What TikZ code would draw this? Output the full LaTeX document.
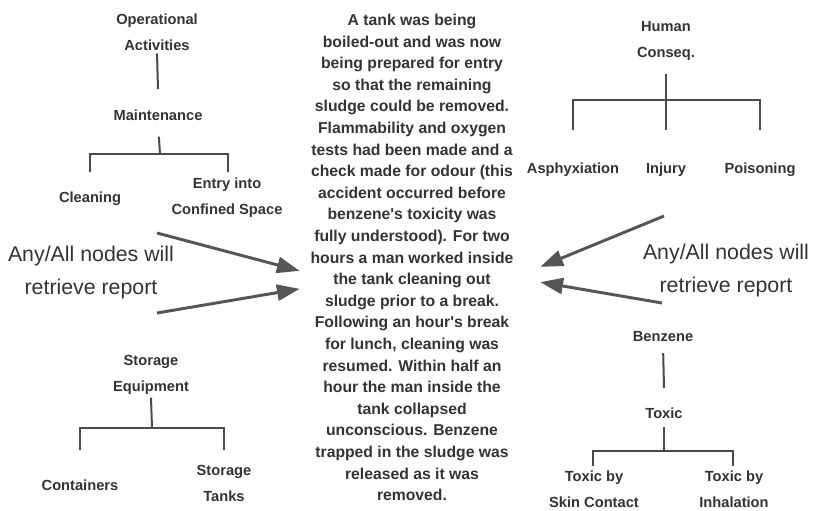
\documentclass[tikz,border=0pt]{standalone}
\usepackage{fontspec}
\setmainfont{Liberation Sans}
\usetikzlibrary{arrows.meta,positioning}
\definecolor{hazInk}{HTML}{333333}
\definecolor{hazLine}{HTML}{4A4A4A}
\definecolor{hazArrow}{HTML}{555555}
\tikzset{
  every picture/.style={text=hazInk},
  haz label/.style={font=\fontsize{11}{19.5}\selectfont\bfseries, align=center, inner sep=2pt},
  haz note/.style={font=\fontsize{16}{24.75}\selectfont, align=center, inner sep=0pt},
  haz report/.style={font=\fontsize{11.8}{16.2}\selectfont\bfseries, align=center,
    inner xsep=8pt, inner ysep=2pt},
  haz line/.style={draw=hazLine, line width=1.5pt},
  haz arrow/.style={-{Triangle[length=17pt,width=12pt]},
    draw=hazArrow, line width=2.2pt, line cap=butt}
}
\begin{document}
\begin{tikzpicture}[x=0.75pt,y=-0.75pt]
  \useasboundingbox (0,0) rectangle (813,510);
  % report text in the middle
  \node[haz report] (report) at (412,257.5) {A tank was being\\
    boiled-out and was now\\ being prepared for entry\\ so that the remaining\\
    sludge could be removed.\\ Flammability and oxygen\\ tests had been made and a\\
    check made for odour (this\\ accident occurred before\\ benzene\textquotesingle s toxicity was\\
    fully understood). For two\\ hours a man worked inside\\ the tank cleaning out\\
    sludge prior to a break.\\ Following an hour\textquotesingle s break\\ for lunch, cleaning was\\
    resumed. Within half an\\ hour the man inside the\\ tank collapsed\\
    unconscious. Benzene\\ trapped in the sludge was\\ released as it was\\ removed.};

  % left: operational activities
  \node[haz label] (opact) at (157,32) {Operational\\Activities};
  \node[haz label] (maint) at (158,115) {Maintenance};
  \node[haz label] (clean) at (90,199) {Cleaning};
  \node[haz label] (entry) at (227,198) {Entry into\\Confined Space};
  \coordinate (maintTop) at (158,89);
  \coordinate (maintJ) at (160,154);
  \coordinate (cleanTop) at (90,172);
  \coordinate (entryTop) at (228,172);
  \draw[haz line] (opact.south) -- (maintTop);
  \draw[haz line,shorten <=10pt] (maint.south) -- (maintJ);
  \draw[haz line] (cleanTop) -- (cleanTop |- maintJ) -- (entryTop |- maintJ) -- (entryTop);

  % left: storage equipment
  \node[haz label] (store) at (151,375) {Storage\\Equipment};
  \node[haz label] (contain) at (80,485) {Containers};
  \node[haz label] (tanks) at (224,483) {Storage\\Tanks};
  \coordinate (storeJ) at (152,428);
  \coordinate (containTop) at (80,450);
  \coordinate (tanksTop) at (224,450);
  \draw[haz line] (store.south) -- (storeJ);
  \draw[haz line] (containTop) -- (containTop |- storeJ) -- (tanksTop |- storeJ) -- (tanksTop);

  \node[haz note] (noteL) at (91,272) {Any/All nodes will\\retrieve report};
  \coordinate (tailA) at (157,233);
  \coordinate (tailB) at (157,313);
  \draw[haz arrow] (tailA) -- ([yshift=-10pt]report.west);
  \draw[haz arrow] (tailB) -- ([yshift=-23.5pt]report.west);

  % right: human consequences
  \node[haz label] (human) at (666,41) {Human\\Conseq.};
  \node[haz label] (asphyx) at (573,170) {Asphyxiation};
  \node[haz label] (injury) at (666,170) {Injury};
  \node[haz label] (poison) at (760,170) {Poisoning};
  \coordinate (humanJ) at (666,100);
  \coordinate (asphyxTop) at (573,130);
  \coordinate (injuryTop) at (666,130);
  \coordinate (poisonTop) at (760,130);
  \draw[haz line,shorten <=8pt] (human.south) -- (injuryTop);
  \draw[haz line] (asphyxTop) -- (asphyxTop |- humanJ) -- (poisonTop |- humanJ) -- (poisonTop);

  % right: benzene
  \node[haz label] (benz) at (663,337) {Benzene};
  \node[haz label] (toxic) at (664,413) {Toxic};
  \node[haz label] (skin) at (594,489) {Toxic by\\Skin Contact};
  \node[haz label] (inhal) at (734,489) {Toxic by\\Inhalation};
  \coordinate (toxicTop) at (664,388);
  \coordinate (toxicJ) at (664,451);
  \coordinate (skinTop) at (593,466);
  \coordinate (inhalTop) at (733,466);
  \draw[haz line,shorten <=6pt] (benz.south) -- (toxicTop);
  \draw[haz line,shorten <=4pt] (toxic.south) -- (toxicJ);
  \draw[haz line] (skinTop) -- (skinTop |- toxicJ) -- (inhalTop |- toxicJ) -- (inhalTop);

  \node[haz note] (noteR) at (726,270) {Any/All nodes will\\retrieve report};
  \coordinate (tailC) at (664,216);
  \coordinate (tailD) at (662,303);
  \draw[haz arrow] (tailC) -- ([xshift=12pt,yshift=-7pt]report.east);
  \draw[haz arrow] (tailD) -- ([xshift=12pt,yshift=-18.5pt]report.east);
\end{tikzpicture}
\end{document}
